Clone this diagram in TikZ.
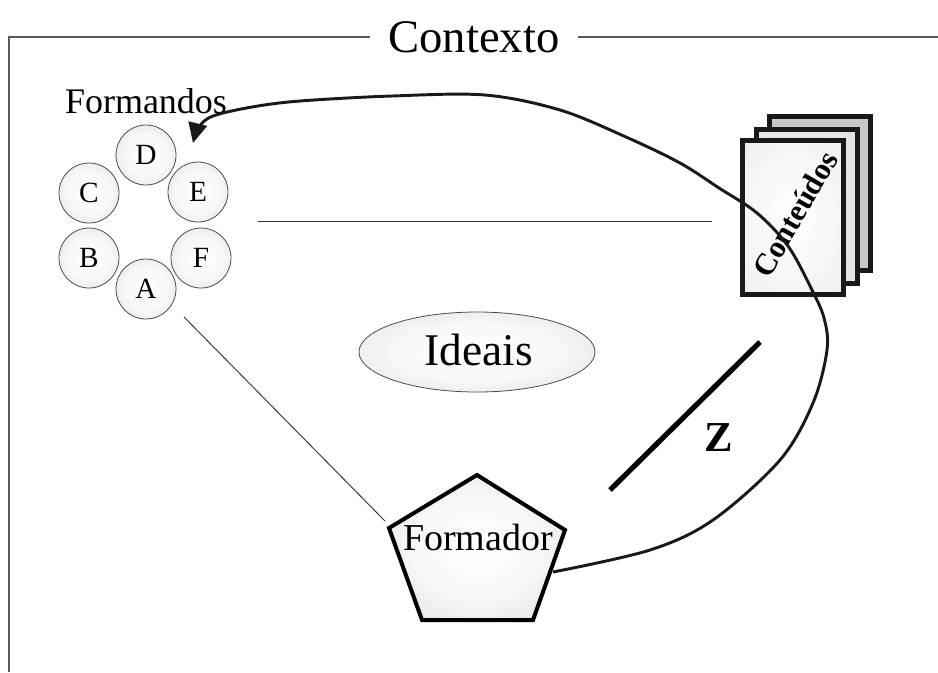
\documentclass[tikz,border=0pt]{standalone}
\usepackage{fontspec}
\setmainfont{Liberation Serif}
\usetikzlibrary{shapes.geometric,arrows.meta}

% soft grey ball used for the filled shapes
\pgfdeclareradialshading{softball}{\pgfpoint{0bp}{0bp}}{%
  color(0bp)=(white); color(18bp)=(white!97!black);
  color(50bp)=(white!80!black); color(100bp)=(white!80!black)}
\pgfdeclareradialshading{softpage}{\pgfpoint{0bp}{0bp}}{%
  color(0bp)=(white); color(30bp)=(white!95!black);
  color(60bp)=(white!86!black); color(100bp)=(white!86!black)}

\tikzset{
  frameline/.style={draw=black!65, line width=0.8pt},
  member/.style={circle, draw=black!70, line width=0.6pt, shade, shading=softball,
    minimum size=45pt, inner sep=0pt, font=\fontsize{22}{22}\selectfont},
  thinlink/.style={draw=black!80, line width=0.7pt},
  page/.style={rectangle, draw=black!90, line width=3.75pt,
    minimum width=75.75pt, minimum height=115.5pt, inner sep=0pt},
  loop/.style={draw=black!90, line width=2.2pt, line join=round,
    -{Triangle[width=14pt,length=15pt]}},
}

\begin{document}
\begin{tikzpicture}[x=0.75pt, y=-0.75pt]
\useasboundingbox (0,0) rectangle (938,672);

% outer context frame with its title
\node[font=\fontsize{35}{35}\selectfont, anchor=base] (ctx) at (474,52) {Contexto};
\coordinate (fTL) at (9,37);
\coordinate (fBL) at (9,672);
\coordinate (fA) at (370,37);
\coordinate (fB) at (578,37);
\coordinate (fR) at (938,37);
\draw[frameline] (fA) -- (fTL) -- (fBL);
\draw[frameline] (fB) -- (fR);

% the group of trainees
\node[font=\fontsize{27}{27}\selectfont, anchor=base] (grp) at (146,113) {Formandos};
\node[member] (D) at (146,155) {D};
\node[member] (C) at (89,193) {C};
\node[member] (E) at (198,192) {E};
\node[member] (B) at (89,258) {B};
\node[member] (F) at (201,258) {F};
\node[member] (A) at (146,289) {A};

% stack of content sheets
\node[page, fill=white!78!black] (pg3) at (819.5,193.5) {};
\node[page, fill=white!90!black] (pg2) at (806.5,206) {};
\node[page, shade, shading=softpage] (pg1) at (793,217.5) {};
\node[rotate=60, font=\bfseries\fontsize{23}{23}\selectfont] (cont) at (795,214) {Conteúdos};

% central ideas
\node[ellipse, draw=black!70, line width=0.6pt, shade, shading=softball,
  minimum width=177pt, minimum height=60pt, inner sep=0pt] (ideas) at (477,352) {};
\node[font=\fontsize{34}{34}\selectfont, anchor=base] (ideastxt) at (479,365) {Ideais};

% the trainer
\coordinate (pT) at (477,475);
\coordinate (pL) at (389,528);
\coordinate (pR) at (565,530);
\coordinate (pBL) at (422,620);
\coordinate (pBR) at (533,620);
\shade[shading=softball] (pT) -- (pR) -- (pBR) -- (pBL) -- (pL) -- cycle;
\draw[line width=3pt, line join=miter] (pT) -- (pR) -- (pBR) -- (pBL) -- (pL) -- cycle;
\node[font=\fontsize{28.5}{28.5}\selectfont, anchor=base] (trainer) at (478,550) {Formador};

% plain links
\coordinate (grpR) at (258,221);
\coordinate (pagL) at (712,221);
\draw[thinlink] (grpR) -- (pagL);
\coordinate (aOut) at (184,317);
\coordinate (pIn) at (385,521);
\draw[thinlink] (aOut) -- (pIn);

% the Z bar
\coordinate (z1) at (610,490);
\coordinate (z2) at (760,342);
\draw[line width=3.9pt] (z1) -- (z2);
\node[font=\bfseries\fontsize{32}{32}\selectfont, anchor=base] (zlab) at (719,451) {Z};

% feedback loop from the trainer back to the trainees
\coordinate (lpS) at (553,572);
\coordinate (lpE) at (193,143);
\draw[loop] plot[smooth, tension=0.55] coordinates {
  (lpS) (650,550) (713,520) (780,460) (813,403) (827,350) (824,318)
  (811,288) (788,246) (757,213) (719,188) (680,163) (626,137) (560,110)
  (485,95) (392,96) (300,101) (252,107) (213,116) (199,127) (lpE)};
\end{tikzpicture}
\end{document}
